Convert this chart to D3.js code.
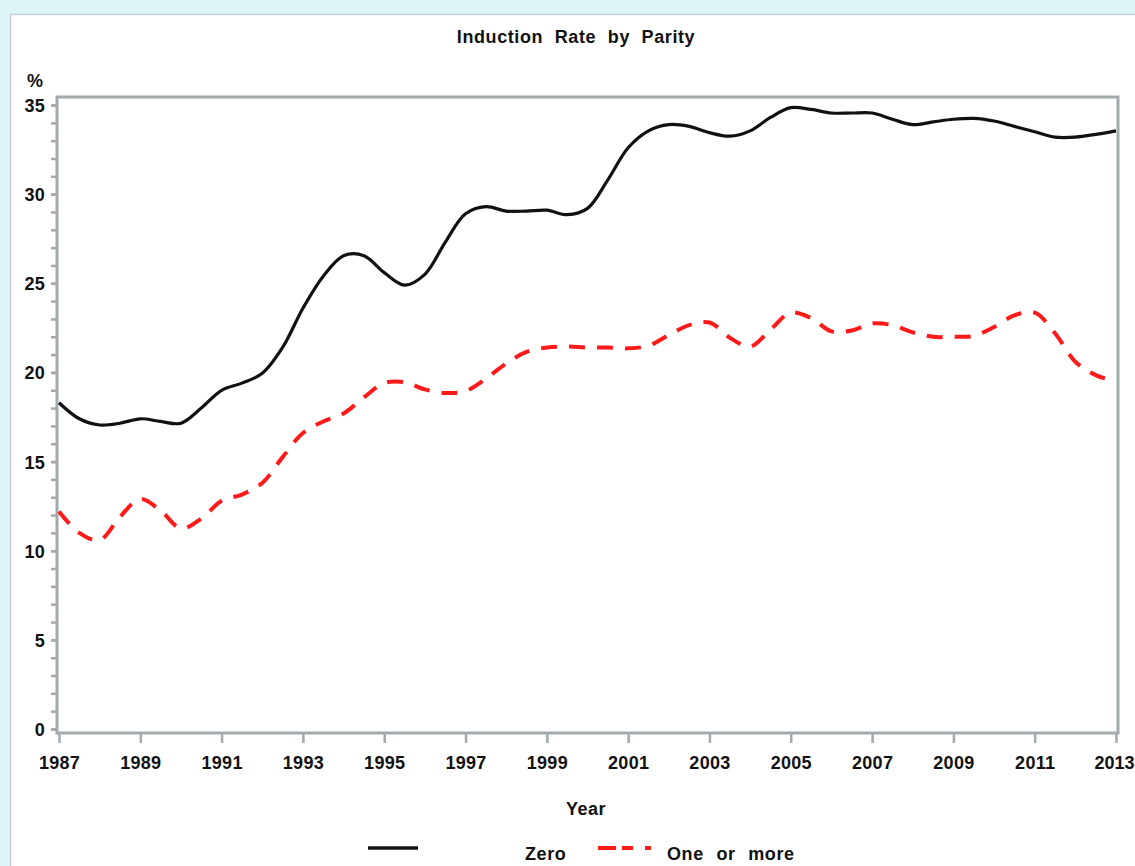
<!DOCTYPE html>
<html>
<head>
<meta charset="utf-8">
<script src="https://cdn.jsdelivr.net/npm/d3@7/dist/d3.min.js"></script>
<style>
  html, body { margin: 0; padding: 0; background: #dff6f8; }
  svg { display: block; }
  text { font-family: "Liberation Sans", Arial, sans-serif; fill: #111; }
</style>
</head>
<body>
<svg id="chart" width="1135" height="866"></svg>
<script>
// Half-year sample points (decimal years) for the two parity groups
const periods = [
  1987.0, 1987.5, 1988.0, 1988.5, 1989.0, 1989.5, 1990.0, 1990.5, 1991.0, 1991.5,
  1992.0, 1992.5, 1993.0, 1993.5, 1994.0, 1994.5, 1995.0, 1995.5, 1996.0, 1996.5,
  1997.0, 1997.5, 1998.0, 1998.5, 1999.0, 1999.5, 2000.0, 2000.5, 2001.0, 2001.5,
  2002.0, 2002.5, 2003.0, 2003.5, 2004.0, 2004.5, 2005.0, 2005.5, 2006.0, 2006.5,
  2007.0, 2007.5, 2008.0, 2008.5, 2009.0, 2009.5, 2010.0, 2010.5, 2011.0, 2011.5,
  2012.0, 2012.5, 2013.0
];

// Induction rate (%) — parity zero
const zeroRate = [
  18.3, 17.4, 17.05, 17.15, 17.4, 17.25, 17.15, 18.0, 19.0, 19.4,
  19.95, 21.4, 23.6, 25.4, 26.55, 26.55, 25.6, 24.9, 25.5, 27.3,
  28.9, 29.3, 29.05, 29.05, 29.1, 28.85, 29.2, 30.8, 32.6, 33.55,
  33.9, 33.8, 33.45, 33.25, 33.55, 34.3, 34.85, 34.75, 34.55, 34.55,
  34.55, 34.2, 33.9, 34.05, 34.2, 34.25, 34.1, 33.8, 33.5, 33.2,
  33.2, 33.35, 33.55
];

// Induction rate (%) — parity one or more
const oneOrMoreRate = [
  12.2, 11.0, 10.6, 11.9, 12.9, 12.25, 11.25, 11.8, 12.8, 13.15,
  13.8, 15.25, 16.6, 17.25, 17.7, 18.6, 19.4, 19.45, 19.05, 18.85,
  18.95, 19.65, 20.5, 21.15, 21.4, 21.45, 21.4, 21.4, 21.35, 21.5,
  22.1, 22.65, 22.8, 21.95, 21.45, 22.4, 23.35, 23.05, 22.3, 22.35,
  22.75, 22.65, 22.25, 22.0, 22.0, 22.05, 22.55, 23.2, 23.35, 22.2,
  20.6, 19.85, 19.5
];

const yearTicks = d3.range(1987, 2014, 2);
const rateTicks = d3.range(0, 36, 5);
const rateMinorTicks = d3.range(0, 36, 1);

const seriesNames = ["Zero", "One or more"];

const svg = d3.select("#chart");
const AXIS = "#a2aaae";
const FONT = "'Liberation Sans', Arial, sans-serif";
const FS = 18;

// white panel
svg.append("rect")
  .attr("x", 10.5).attr("y", 14.5)
  .attr("width", 1130).attr("height", 860)
  .attr("fill", "#fff").attr("stroke", "#c9cfd1").attr("stroke-width", 1.5);

const x = d3.scaleLinear().domain([1987, 2013]).range([59, 1116]);
const y = d3.scaleLinear().domain([0, 35]).range([729, 105]);

const frame = { left: 57, right: 1118, top: 97, bottom: 733 };

// title
svg.append("text")
  .attr("x", 576).attr("y", 43)
  .attr("text-anchor", "middle")
  .attr("font-size", FS).attr("font-weight", "bold")
  .attr("letter-spacing", 0.6).attr("word-spacing", 6)
  .text("Induction Rate by Parity");

// y axis (minor + major ticks)
const yMinor = svg.append("g")
  .attr("transform", `translate(${frame.left},0)`)
  .call(d3.axisLeft(y).tickValues(rateMinorTicks).tickSize(6).tickFormat(""));
yMinor.select(".domain").remove();
yMinor.selectAll(".tick line").attr("stroke", AXIS).attr("stroke-width", 2.5);

const yAxis = svg.append("g")
  .attr("transform", `translate(${frame.left},0)`)
  .call(d3.axisLeft(y).tickValues(rateTicks).tickSize(6).tickPadding(6));
yAxis.select(".domain").remove();
yAxis.selectAll(".tick line").attr("stroke", AXIS).attr("stroke-width", 2.5);
yAxis.selectAll(".tick text")
  .attr("font-size", FS).attr("font-weight", "bold")
  .attr("fill", "#111").attr("font-family", FONT)
  .attr("dy", "0.36em").attr("letter-spacing", 0.3);

// x axis
const xAxis = svg.append("g")
  .attr("transform", `translate(0,${frame.bottom})`)
  .call(d3.axisBottom(x).tickValues(yearTicks).tickSize(10).tickPadding(13).tickFormat(d3.format("d")));
xAxis.select(".domain").remove();
xAxis.selectAll(".tick line").attr("stroke", AXIS).attr("stroke-width", 2.5);
xAxis.selectAll(".tick text")
  .attr("font-size", FS).attr("font-weight", "bold")
  .attr("fill", "#111").attr("font-family", FONT)
  .attr("letter-spacing", 0.3);
// keep the last year label inside the page edge
xAxis.selectAll(".tick text")
  .filter(d => d === 2013)
  .attr("letter-spacing", 0)
  .attr("text-anchor", "end")
  .attr("x", 18);

// plot frame
svg.append("path")
  .attr("d", `M${frame.left},${frame.bottom}V${frame.top}H${frame.right}V${frame.bottom}Z`)
  .attr("fill", "none").attr("stroke", AXIS).attr("stroke-width", 3);

// axis titles
svg.append("text")
  .attr("x", 35).attr("y", 87)
  .attr("text-anchor", "middle")
  .attr("font-size", FS).attr("font-weight", "bold")
  .text("%");

svg.append("text")
  .attr("x", 586).attr("y", 815)
  .attr("text-anchor", "middle")
  .attr("font-size", FS).attr("font-weight", "bold")
  .attr("letter-spacing", 0.5)
  .text("Year");

// series lines
const line = d3.line()
  .x(d => x(d[0]))
  .y(d => y(d[1]))
  .curve(d3.curveCatmullRom.alpha(0.5));

const styles = [
  { color: "#111", width: 3.2, dash: null },
  { color: "#ff1a1a", width: 4, dash: "16,12" }
];

[zeroRate, oneOrMoreRate].forEach((vals, i) => {
  svg.append("path")
    .datum(periods.map((p, k) => [p, vals[k]]))
    .attr("d", line)
    .attr("fill", "none")
    .attr("stroke", styles[i].color)
    .attr("stroke-width", styles[i].width)
    .attr("stroke-dasharray", styles[i].dash)
    .attr("stroke-linejoin", "round");
});

// legend
const legend = svg.append("g");
const legendItems = [
  { x1: 368, x2: 418, tx: 525 },
  { x1: 598, x2: 651, tx: 667 }
];
legendItems.forEach((it, i) => {
  legend.append("line")
    .attr("x1", it.x1).attr("x2", it.x2)
    .attr("y1", 848).attr("y2", 848)
    .attr("stroke", styles[i].color)
    .attr("stroke-width", i === 0 ? 3.5 : 4)
    .attr("stroke-dasharray", i === 0 ? null : "18,6,11,12,5,0");
  legend.append("text")
    .attr("x", it.tx).attr("y", 860)
    .attr("font-size", FS).attr("font-weight", "bold")
    .attr("letter-spacing", 0.6).attr("word-spacing", 7)
    .text(seriesNames[i]);
});
</script>
</body>
</html>
